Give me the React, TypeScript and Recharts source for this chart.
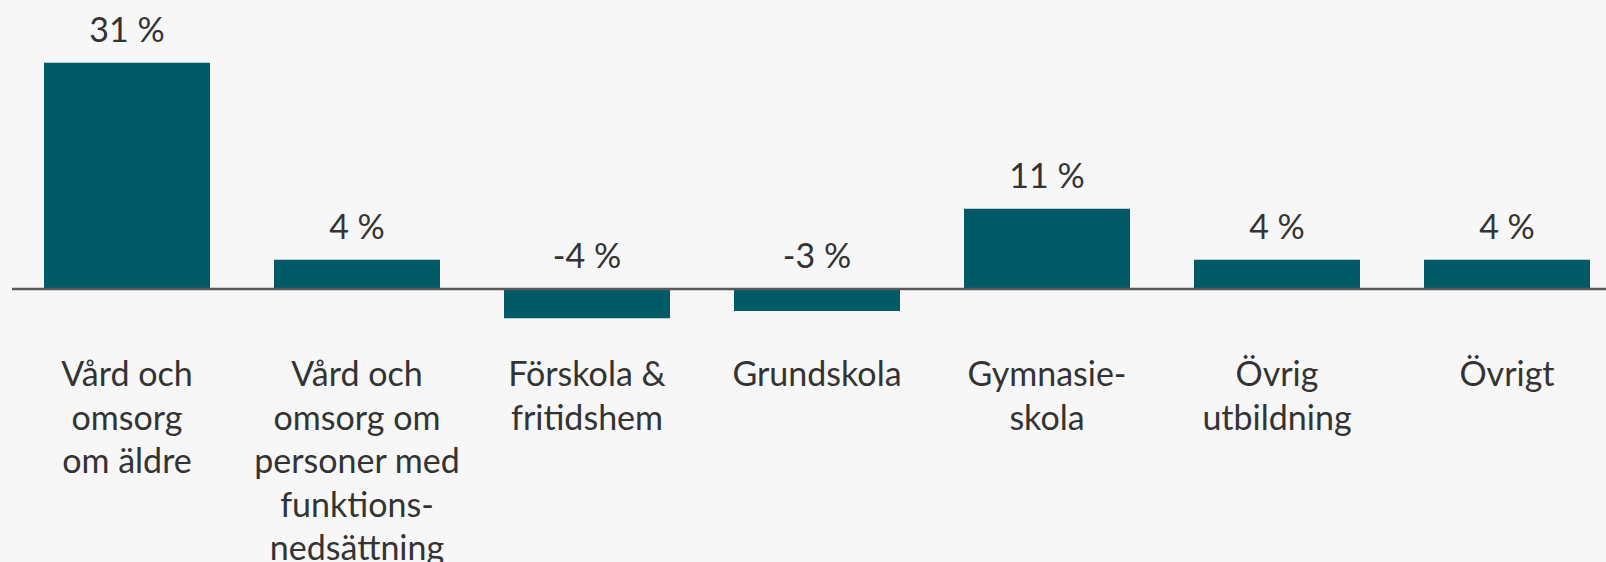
import { Bar, BarChart, LabelList, ReferenceLine, XAxis, YAxis } from "recharts";

const categories = [
    "Vård och\nomsorg\nom äldre",
    "Vård och\nomsorg om\npersoner med\nfunktions-\nnedsättning",
    "Förskola &\nfritidshem",
    "Grundskola",
    "Gymnasie-\nskola",
    "Övrig\nutbildning",
    "Övrigt",
];
const changes = [31, 4, -4, -3, 11, 4, 4];

const data = categories.map((category, i) => ({ category, change: changes[i] }));

const FONT = "Lato, 'Noto Sans', sans-serif";
const TEXT = "#333333";

const CategoryTick = ({ x, y, payload }: any) => {
    const lines = String(payload.value).split("\n");
    return (
        <text x={x} y={y} textAnchor="middle" fill={TEXT} fontSize={34} fontFamily={FONT}>
            {lines.map((line, i) => (
                <tspan key={i} x={x} dy={i === 0 ? 53.5 : 43.5}>
                    {line}
                </tspan>
            ))}
        </text>
    );
};

const ValueLabel = ({ x, y, width, height, value }: any) => {
    // negative bars get their label above the zero line too
    const top = Math.min(y, y + height);
    return (
        <text
            x={x + width / 2}
            y={top - 21}
            textAnchor="middle"
            fill={TEXT}
            fontSize={34}
            fontFamily={FONT}
        >
            {`${value} %`}
        </text>
    );
};

const App = () => {
    return (
        <div
            style={{
                position: "absolute",
                left: 0,
                top: 0,
                width: 1606,
                height: 562,
                overflow: "hidden",
                background: "#f7f7f7",
            }}
        >
            <BarChart
                width={1622}
                height={562}
                data={data}
                margin={{ top: 62.7, right: 0, left: 12, bottom: 0 }}
                barSize={166}
            >
                <YAxis hide domain={[-6, 31]} />
                <XAxis
                    dataKey="category"
                    height={229.2}
                    interval={0}
                    axisLine={false}
                    tickLine={false}
                    tickSize={0}
                    tickMargin={0}
                    tick={<CategoryTick />}
                />
                <Bar dataKey="change" fill="#025a67" isAnimationActive={false}>
                    <LabelList dataKey="change" content={<ValueLabel />} />
                </Bar>
                <ReferenceLine y={0} stroke="#5a5a5a" strokeWidth={2.5} />
            </BarChart>
        </div>
    );
};

export default App;
